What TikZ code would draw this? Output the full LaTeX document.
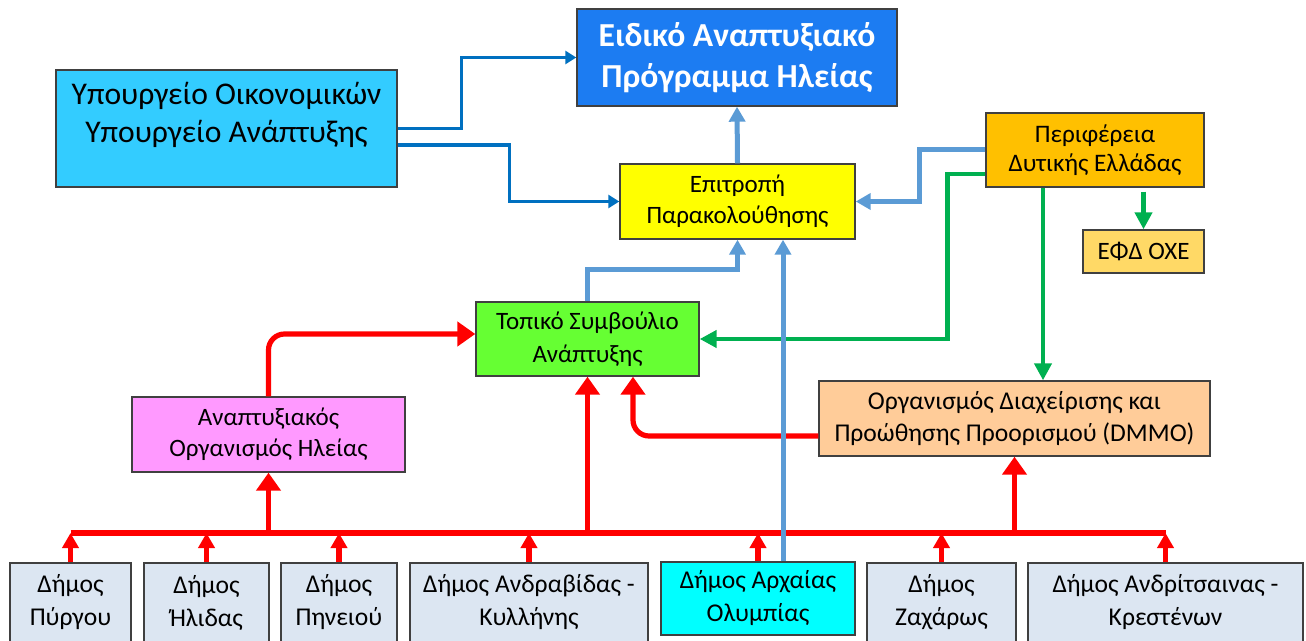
\documentclass[tikz,border=0pt]{standalone}
\usepackage{fontspec}
\setmainfont{Carlito}
\usetikzlibrary{arrows.meta,calc}

\definecolor{minblue}{HTML}{33CCFF}
\definecolor{eidblue}{HTML}{1C7CF2}
\definecolor{epiyellow}{HTML}{FFFF00}
\definecolor{perorange}{HTML}{FFC000}
\definecolor{efdyellow}{HTML}{FFD966}
\definecolor{topgreen}{HTML}{66FF33}
\definecolor{anapink}{HTML}{FF99FF}
\definecolor{dmmopeach}{HTML}{FFCC99}
\definecolor{dimosfill}{HTML}{DCE6F2}
\definecolor{olycyan}{HTML}{00FFFF}
\definecolor{dkblue}{HTML}{0070C0}
\definecolor{ltblue}{HTML}{5B9BD5}
\definecolor{arrgreen}{HTML}{00B050}

\begin{document}
\begin{tikzpicture}[x=0.5pt,y=-0.5pt,
  box/.style={draw=black!75,line width=0.7pt,inner sep=0pt,align=center,font=\fontsize{12.5}{15.5}\selectfont},
  dimos/.style={box,fill=dimosfill,minimum height=39.5pt,font=\fontsize{12.8}{16.5}\selectfont},
  dkline/.style={draw=dkblue,line width=1.75pt,-{Triangle[width=6.5pt,length=5.5pt]}},
  ltline/.style={draw=ltblue,line width=2.5pt,-{Triangle[width=8pt,length=7.5pt]}},
  grline/.style={draw=arrgreen,line width=2.3pt,-{Triangle[width=8.5pt,length=8.5pt]}},
  redline/.style={draw=red,line width=2.6pt},
  redbig/.style={redline,-{Triangle[width=12pt,length=9pt]}},
  redsmall/.style={redline,-{Triangle[width=8pt,length=7.5pt]}}]
  \useasboundingbox (0,0) rectangle (1306,641);
  \clip (0,0) rectangle (1306,641);

  % upper part
  \node[box,fill=minblue,minimum width=170.5pt,minimum height=58.5pt,font=\fontsize{15.8}{19}\selectfont] (min) at (226.5,128.5) {Υπουργείο Οικονομικών\\Υπουργείο Ανάπτυξης\\[-3pt]\mbox{}};
  \node[box,fill=eidblue,text=white,minimum width=160pt,minimum height=48.5pt,font=\bfseries\fontsize{16.8}{20.5}\selectfont] (eid) at (737,57.5) {Ειδικό Αναπτυξιακό\\Πρόγραμμα Ηλείας};
  \node[box,fill=epiyellow,minimum width=117.5pt,minimum height=37.5pt] (epi) at (737.5,201.5) {Επιτροπή\\Παρακολούθησης};
  \node[box,fill=perorange,minimum width=109pt,minimum height=37pt,font=\fontsize{12.6}{14.5}\selectfont] (per) at (1095,150) {Περιφέρεια\\Δυτικής Ελλάδας};
  \node[box,fill=efdyellow,minimum width=60.5pt,minimum height=21.5pt] (efd) at (1143.5,251.5) {ΕΦΔ ΟΧΕ};
  \node[box,fill=topgreen,minimum width=111.5pt,minimum height=37pt,font=\fontsize{12.5}{16.5}\selectfont] (top) at (587.5,339) {Τοπικό Συμβούλιο\\Ανάπτυξης};
  \node[box,fill=anapink,minimum width=136.5pt,minimum height=37.5pt] (ana) at (268.5,434.5) {Αναπτυξιακός\\Οργανισμός Ηλείας};
  \node[box,fill=dmmopeach,minimum width=195.5pt,minimum height=37.5pt,font=\fontsize{12.8}{16}\selectfont] (dmmo) at (1014.5,418.5) {Οργανισμός Διαχείρισης και\\Προώθησης Προορισμού (DMMO)};

  % municipalities
  \node[dimos,minimum width=60.5pt] (d1) at (70.5,602.5) {Δήμος\\Πύργου};
  \node[dimos,minimum width=62.5pt] (d2) at (206.5,602.5) {Δήμος\\Ήλιδας};
  \node[dimos,minimum width=58pt] (d3) at (339,602.5) {Δήμος\\Πηνειού};
  \node[dimos,minimum width=119pt] (d4) at (529,602.5) {Δήμος Ανδραβίδας -\\Κυλλήνης};
  \node[dimos,fill=olycyan,minimum width=97pt,minimum height=36.5pt] (d5) at (758,598.5) {Δήμος Αρχαίας\\Ολυμπίας};
  \node[dimos,minimum width=74.5pt] (d6) at (941.5,602.5) {Δήμος\\Ζαχάρως};
  \node[dimos,minimum width=137.5pt] (d7) at (1165.5,602.5) {Δήμος Ανδρίτσαινας -\\Κρεστένων};
  \coordinate (bus) at (0,533);

  % red
  \draw[redline] (d1.north |- bus) -- (d7.north |- bus);
  \foreach \d in {d1,d2,d3,d4,d5,d6,d7}
    \draw[redsmall] (\d.north) -- (\d.north |- bus);
  \draw[redbig] (ana.south |- bus) -- (ana.south);
  \draw[redbig] (top.south |- bus) -- (top.south);
  \draw[redbig] (dmmo.south |- bus) -- (dmmo.south);
  \draw[redbig,rounded corners=8pt] (ana.north) |- ($(top.west)+(0,-5)$);
  \draw[redbig,rounded corners=8pt] ($(dmmo.west)+(0,17.5)$) -| ($(top.south)+(45.5,0)$);

  % green
  \draw[grline,shorten <=2pt] (per.south -| efd.north) -- (efd.north);
  \draw[grline] ($(per.west)+(0,24)$) -- ++(-38,0) |- (top.east);
  \draw[grline] ($(per.south)+(-52,0)$) -- ($(dmmo.north)+(28.5,0)$);

  % blue
  \draw[dkline] (min.east) -- ++(64,0) |- (eid.west);
  \draw[dkline] ($(min.east)+(0,16.5)$) -- ++(112,0) |- (epi.west);
  \draw[ltline] (epi.north) -- (eid.south);
  \draw[ltline] (per.west) -- ++(-66,0) |- (epi.east);
  \draw[ltline] (top.north) -- ++(0,-32) -| (epi.south);
  \draw[ltline] ($(d5.north)+(25,0)$) -- ($(epi.south)+(45.5,0)$);
\end{tikzpicture}
\end{document}
